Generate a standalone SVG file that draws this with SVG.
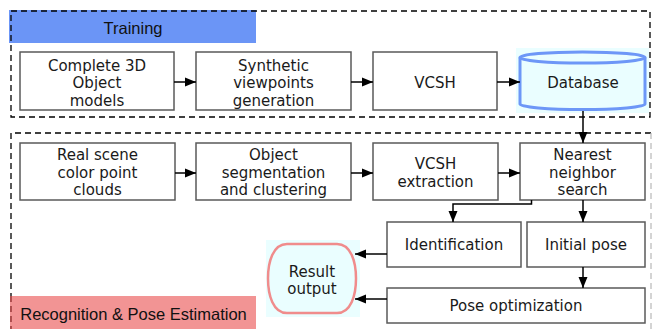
<svg xmlns="http://www.w3.org/2000/svg" width="653" height="329" viewBox="0 0 653 329">
<defs>
<marker id="ah" markerUnits="userSpaceOnUse" markerWidth="12" markerHeight="10" refX="11" refY="5" orient="auto">
<path d="M0,0.5 L11,5 L0,9.5 Z" fill="#000"/>
</marker>
<style>
.box{fill:#fff;stroke:#5a5a5a;stroke-width:1.5}
.t{font-family:"DejaVu Sans",Verdana,sans-serif;font-size:15px;fill:#1a1a1a;text-anchor:middle}
.lbl{font-family:"Liberation Sans",Arial,sans-serif;font-size:16.5px;fill:#111;text-anchor:middle}
.dash{fill:none;stroke:#000;stroke-width:1.3;stroke-dasharray:6,4}
.c{fill:none;stroke:#000;stroke-width:1.5}
</style>
</defs>
<rect width="653" height="329" fill="#fff"/>
<g id="training-label">
<rect x="9" y="10" width="247" height="33" fill="#6b95f6"/>
<text class="lbl" x="133" y="34" font-size="16">Training</text>
</g>
<g id="training-frame"><rect class="dash" x="11" y="11" width="639" height="106"/></g>
<g id="recognition-frame">
<path class="dash" d="M11,329 V133 H651"/>
<path class="dash" d="M651,133 V329" style="stroke:#bdbdbd"/>
</g>
<g id="recognition-label">
<rect x="10" y="296" width="246" height="33" fill="#f29494"/>
<path class="dash" d="M11,296 V329" style="stroke:#8a2a2a"/>
<text class="lbl" x="133.5" y="320">Recognition &amp; Pose Estimation</text>
</g>
<g id="n1"><rect class="box" x="20" y="52" width="154" height="58"/>
<text class="t" x="97" y="70.5">Complete 3D</text><text class="t" x="97" y="88">Object</text><text class="t" x="97" y="105.5">models</text></g>
<g id="n2"><rect class="box" x="196" y="52" width="155" height="58"/>
<text class="t" x="273.5" y="70.5">Synthetic</text><text class="t" x="273.5" y="88">viewpoints</text><text class="t" x="273.5" y="105.5">generation</text></g>
<g id="n3"><rect class="box" x="373" y="52" width="124" height="58"/>
<text class="t" x="435" y="88">VCSH</text></g>
<g id="n4">
<rect x="516" y="48" width="133" height="65" fill="#eafeff"/>
<path d="M520,57.5 V104 A62.5,5.5 0 0 0 645,104 V57.5" fill="#eafeff" stroke="#6d97f7" stroke-width="3"/>
<ellipse cx="582.5" cy="57.5" rx="62.5" ry="5.5" fill="#eafeff" stroke="#6d97f7" stroke-width="3"/>
<text class="t" x="583" y="88">Database</text></g>
<g id="n5"><rect class="box" x="20" y="143" width="155" height="57"/>
<text class="t" x="97.5" y="159.5">Real scene</text><text class="t" x="97.5" y="177.5">color point</text><text class="t" x="97.5" y="195">clouds</text></g>
<g id="n6"><rect class="box" x="196" y="143" width="155" height="57"/>
<text class="t" x="273.5" y="159.5">Object</text><text class="t" x="273.5" y="177.5">segmentation</text><text class="t" x="273.5" y="195">and clustering</text></g>
<g id="n7"><rect class="box" x="373" y="143" width="125" height="57"/>
<text class="t" x="435.5" y="168.5">VCSH</text><text class="t" x="435.5" y="187">extraction</text></g>
<g id="n8"><rect class="box" x="520" y="143" width="125" height="57"/>
<text class="t" x="582.5" y="160">Nearest</text><text class="t" x="582.5" y="177.5">neighbor</text><text class="t" x="582.5" y="195">search</text></g>
<g id="n9"><rect class="box" x="387" y="222" width="134" height="45"/>
<text class="t" x="454" y="250">Identification</text></g>
<g id="n10"><rect class="box" x="527" y="222" width="118" height="45"/>
<text class="t" x="586" y="250">Initial pose</text></g>
<g id="n11"><rect class="box" x="387" y="288" width="258" height="35"/>
<text class="t" x="516" y="311">Pose optimization</text></g>
<g id="n12">
<rect x="266" y="240" width="94" height="77" fill="#eafeff"/>
<path d="M287,244 H337 C351,244 356,262 356,278.5 C356,295 351,313 337,313 H287 C273,313 268,295 268,278.5 C268,262 273,244 287,244 Z" fill="#eafeff" stroke="#f08c8c" stroke-width="2.5"/>
<text class="t" x="312" y="276.5">Result</text><text class="t" x="312" y="293.5">output</text></g>
<g id="connectors">
<line class="c" x1="174" y1="82" x2="196" y2="82" marker-end="url(#ah)"/>
<line class="c" x1="351" y1="82" x2="373" y2="82" marker-end="url(#ah)"/>
<line class="c" x1="497" y1="82" x2="520" y2="82" marker-end="url(#ah)"/>
<line class="c" x1="583" y1="111" x2="583" y2="143" marker-end="url(#ah)"/>
<line class="c" x1="175" y1="173" x2="196" y2="173" marker-end="url(#ah)"/>
<line class="c" x1="351" y1="173" x2="373" y2="173" marker-end="url(#ah)"/>
<line class="c" x1="498" y1="173" x2="520" y2="173" marker-end="url(#ah)"/>
<polyline class="c" points="531.5,200 531.5,204 453,204 453,222" marker-end="url(#ah)"/>
<line class="c" x1="583" y1="200" x2="583" y2="222" marker-end="url(#ah)"/>
<line class="c" x1="583" y1="267" x2="583" y2="288" marker-end="url(#ah)"/>
<line class="c" x1="387" y1="254" x2="355" y2="254" marker-end="url(#ah)"/>
<line class="c" x1="387" y1="299" x2="355" y2="299" marker-end="url(#ah)"/>
</g>
</svg>
